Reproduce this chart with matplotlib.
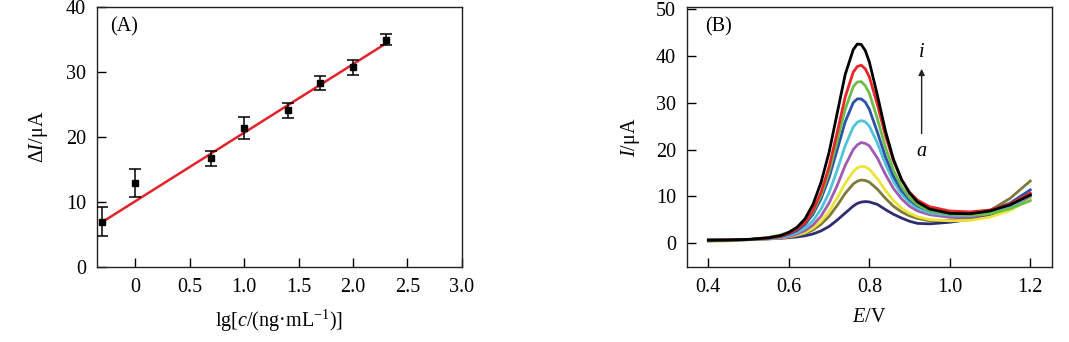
import matplotlib
matplotlib.use("Agg")
import matplotlib.pyplot as plt
import numpy as np

plt.rcParams['font.family'] = ['Liberation Serif', 'DejaVu Serif']
plt.rcParams['mathtext.fontset'] = 'custom'
plt.rcParams['mathtext.rm'] = 'Liberation Serif'
plt.rcParams['mathtext.it'] = 'Liberation Serif:italic'

# (A) calibration data
lg_conc = [-0.3, 0.0, 0.7, 1.0, 1.4, 1.7, 2.0, 2.3]
delta_i = [7.0, 12.9, 16.7, 21.4, 24.1, 28.3, 30.7, 35.0]
delta_err = [2.2, 2.2, 1.1, 1.7, 1.15, 1.1, 1.1, 0.9]
fit_slope = 10.55
fit_intercept = 10.1

# (B) DPV curves a..i
potential = [0.40, 0.45, 0.50, 0.55, 0.58, 0.60, 0.62, 0.64, 0.66, 0.68,
             0.70, 0.72, 0.74, 0.76, 0.77, 0.78, 0.79, 0.80, 0.82, 0.84,
             0.86, 0.88, 0.90, 0.92, 0.95, 1.00, 1.05, 1.10, 1.15, 1.20]
curve_a = [0.75, 0.8, 0.85, 0.95, 1.07, 1.2, 1.37, 1.6, 2.0, 2.65,
           3.6, 4.95, 6.45, 7.95, 8.5, 8.8, 8.9, 8.83, 8.3, 7.2,
           6.2, 5.4, 4.7, 4.25, 4.15, 4.5, 5.1, 6.0, 7.7, 10.4]
curve_b = [0.7, 0.75, 0.8, 0.97, 1.14, 1.35, 1.65, 2.1, 2.85, 4.05,
           5.75, 8.05, 10.65, 12.65, 13.25, 13.5, 13.4, 13.05, 11.55, 9.6,
           7.9, 6.7, 5.85, 5.3, 4.8, 4.9, 5.5, 7.0, 9.6, 13.3]
curve_c = [0.65, 0.7, 0.8, 1.0, 1.17, 1.4, 1.8, 2.3, 3.25, 4.7,
           6.8, 9.7, 12.8, 15.3, 16.1, 16.4, 16.3, 15.8, 13.8, 11.3,
           9.1, 7.5, 6.4, 5.65, 5.05, 4.8, 4.9, 5.6, 7.0, 9.5]
curve_d = [0.65, 0.7, 0.8, 1.03, 1.22, 1.5, 2.0, 2.7, 3.9, 5.8,
           8.6, 12.3, 16.6, 20.0, 21.0, 21.5, 21.3, 20.8, 18.2, 14.7,
           11.7, 9.5, 7.9, 6.9, 6.1, 5.55, 5.6, 6.3, 7.8, 10.0]
curve_e = [0.6, 0.7, 0.8, 1.05, 1.3, 1.7, 2.3, 3.2, 4.8, 7.3,
           10.8, 15.6, 20.8, 24.8, 25.8, 26.2, 25.9, 25.0, 21.4, 16.9,
           13.2, 10.5, 8.7, 7.5, 6.5, 6.0, 5.95, 6.4, 7.9, 10.2]
curve_f = [0.65, 0.7, 0.8, 1.1, 1.45, 1.95, 2.7, 4.0, 6.2, 9.5,
           14.0, 19.9, 25.9, 30.0, 30.8, 30.8, 30.1, 28.6, 23.7, 18.5,
           14.3, 11.3, 9.3, 8.0, 6.9, 6.25, 6.25, 7.0, 8.6, 11.4]
curve_g = [0.45, 0.55, 0.75, 1.3, 1.8, 2.4, 3.3, 4.5, 6.7, 10.2,
           15.2, 21.8, 28.6, 33.4, 34.4, 34.5, 33.6, 32.0, 26.6, 20.5,
           15.6, 12.1, 9.7, 8.2, 6.9, 6.2, 6.0, 6.3, 7.4, 9.1]
curve_h = [0.65, 0.7, 0.8, 1.14, 1.5, 2.1, 3.0, 4.4, 7.0, 10.9,
           16.3, 23.6, 31.2, 36.5, 37.7, 38.0, 37.2, 35.5, 29.6, 23.0,
           17.6, 13.6, 10.9, 9.2, 7.8, 6.9, 6.7, 7.1, 8.4, 10.7]
curve_i = [0.65, 0.7, 0.84, 1.18, 1.66, 2.33, 3.4, 5.2, 8.3, 13.0,
           19.4, 27.7, 36.0, 41.3, 42.5, 42.4, 41.1, 38.7, 31.6, 24.0,
           17.9, 13.6, 10.7, 8.8, 7.3, 6.4, 6.3, 6.9, 8.2, 10.3]
curves = [curve_a, curve_b, curve_c, curve_d, curve_e, curve_f, curve_g, curve_h, curve_i]
colors = ['#2e2d70', '#7e7a3c', '#ece437', '#a05cb2', '#52c3d8',
          '#2a52a8', '#6bbf48', '#e8262a', '#000000']

fs = 14.5

fig = plt.figure(figsize=(10.69, 3.42), dpi=100)
ax1 = fig.add_axes([0.0907, 0.2193, 0.3414, 0.7602])
ax2 = fig.add_axes([0.6427, 0.2193, 0.3414, 0.7602])

# panel A
ax1.errorbar(lg_conc, delta_i, yerr=delta_err, fmt='s', color='black',
             markersize=4.5, ecolor='black', elinewidth=1.1, capsize=4.5,
             capthick=1.1, zorder=3)
xfit = np.array([lg_conc[0], lg_conc[-1]])
ax1.plot(xfit, fit_intercept + fit_slope * xfit, color='#e3232b', lw=1.8, zorder=2)
ax1.set_xlim(-0.35, 3.0)
ax1.set_ylim(0, 40)
ax1.set_xticks([0, 0.5, 1.0, 1.5, 2.0, 2.5, 3.0])
ax1.set_xticklabels(['0', '0.5', '1.0', '1.5', '2.0', '2.5', '3.0'])
ax1.set_yticks([0, 10, 20, 30, 40])
ax1.set_xlabel(r'lg[$c$/(ng·mL$^{-1}$)]', fontsize=fs, labelpad=8)
ax1.set_ylabel(r'$\Delta I$/μA', fontsize=fs, labelpad=11)
ax1.text(0.035, 0.925, '(A)', transform=ax1.transAxes, fontsize=fs, va='center')

# panel B
for y, c in zip(curves, colors):
    ax2.plot(potential, y, color=c, lw=2.0)
ax2.set_xlim(0.347, 1.254)
ax2.set_ylim(-5.05, 50.4)
ax2.set_xticks([0.4, 0.6, 0.8, 1.0, 1.2])
ax2.set_yticks([0, 10, 20, 30, 40, 50])
ax2.set_xlabel(r'$E$/V', fontsize=fs, labelpad=8)
ax2.set_ylabel(r'$I$/μA', fontsize=fs, labelpad=10)
ax2.text(0.05, 0.925, '(B)', transform=ax2.transAxes, fontsize=fs, va='center')
ax2.annotate('', xy=(0.930, 37.8), xytext=(0.930, 22.8),
             arrowprops=dict(arrowstyle='-|>', color='#222222', lw=1.0,
                             mutation_scale=9))
ax2.text(0.930, 40.6, r'$i$', fontsize=fs, ha='center', va='center')
ax2.text(0.930, 19.6, r'$a$', fontsize=fs, ha='center', va='center')

for ax in (ax1, ax2):
    ax.tick_params(direction='in', length=6.5, width=1.0, labelsize=fs,
                   top=False, right=False, pad=8)
    for s in ax.spines.values():
        s.set_linewidth(1.0)
        s.set_color('#222222')

fig.savefig('out.png', dpi=100)
